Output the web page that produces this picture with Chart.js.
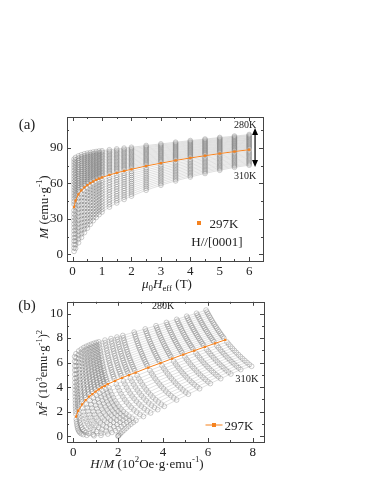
<!DOCTYPE html>
<html><head><meta charset="utf-8">
<script src="https://cdn.jsdelivr.net/npm/chart.js@4"></script>
<style>
body{margin:0;width:374px;height:484px;background:#fff;position:relative;overflow:hidden;font-family:'Liberation Serif','Times New Roman',serif;color:#222}
canvas{position:absolute;left:0}
.t{position:absolute;white-space:nowrap;line-height:1;transform:translate(-50%,-50%)}
.r{transform:translate(-50%,-50%) rotate(-90deg)}
sub,sup{font-size:68%;line-height:0}
</style></head><body>
<canvas id="ca" width="374" height="190" style="top:100px"></canvas>
<canvas id="cb" width="374" height="194" style="top:290px"></canvas>

<div class="t" style="left:27px;top:124px;font-size:15px">(a)</div>
<div class="t r" style="left:43px;top:207px;font-size:13px"><i>M</i> (emu·g<sup>-1</sup>)</div>
<div class="t" style="left:167px;top:283px;font-size:13px"><i>μ</i><sub>0</sub><i>H</i><sub>eff</sub> (T)</div>
<div class="t" style="left:245px;top:125px;font-size:10px">280K</div>
<div class="t" style="left:245px;top:176px;font-size:10px">310K</div>
<div class="t" style="left:199px;top:223px;width:4px;height:4px;background:#f5821f"></div>
<div class="t" style="left:224px;top:223px;font-size:13px">297K</div>
<div class="t" style="left:217px;top:241px;font-size:13px">H//[0001]</div>

<div class="t" style="left:27px;top:305px;font-size:15px">(b)</div>
<div class="t r" style="left:43px;top:373px;font-size:12.5px"><i>M</i><sup>2</sup> (10<sup>3</sup>emu·g<sup>-1</sup>)<sup>2</sup></div>
<div class="t" style="left:147px;top:463px;font-size:13px"><i>H</i>/<i>M</i> (10<sup>2</sup>Oe·g·emu<sup>-1</sup>)</div>
<div class="t" style="left:163px;top:306px;font-size:10px">280K</div>
<div class="t" style="left:247px;top:379px;font-size:10.5px">310K</div>
<div class="t" style="left:214px;top:425px;width:17px;height:1px;background:#f5821f"></div>
<div class="t" style="left:214px;top:425px;width:4px;height:4px;background:#f5821f"></div>
<div class="t" style="left:239px;top:425px;font-size:13px">297K</div>

<script>
// ---- data ----
const fieldsT = [0.05,0.1,0.2,0.3,0.4,0.5,0.6,0.7,0.8,0.9,1.0,1.25,1.5,1.75,2,2.5,3,3.5,4,4.5,5,5.5,6];
const temperaturesK = [280,281,282,283,284,285,286,287,288,289,290,291,292,293,294,295,296,297,298,299,300,301,302,303,304,305,306,307,308,309,310];
const highlightK = 297;
// magnetization (emu/g) per isotherm, one row per temperature, columns follow fieldsT
const magnetization = [
 [80.5,82.0,83.3,84.2,85.0,85.6,86.1,86.6,87.0,87.4,87.7,88.5,89.2,89.9,90.6,92.1,93.5,94.9,96.3,97.6,98.9,100.1,101.4],
 [78.1,79.9,81.4,82.4,83.3,84.0,84.6,85.1,85.6,86.0,86.4,87.2,88.0,88.8,89.5,91.1,92.5,94.0,95.4,96.8,98.1,99.3,100.6],
 [75.7,77.7,79.5,80.7,81.7,82.4,83.1,83.7,84.2,84.7,85.0,86.0,86.8,87.6,88.4,90.1,91.6,93.1,94.6,95.9,97.3,98.6,99.9],
 [73.4,75.6,77.6,78.9,80.0,80.8,81.5,82.2,82.8,83.3,83.7,84.7,85.6,86.5,87.3,89.0,90.6,92.2,93.7,95.1,96.5,97.8,99.1],
 [71.0,73.4,75.7,77.1,78.3,79.2,80.0,80.7,81.4,81.9,82.4,83.5,84.4,85.4,86.2,88.0,89.7,91.3,92.8,94.3,95.7,97.0,98.4],
 [68.6,71.3,73.7,75.4,76.7,77.7,78.5,79.3,79.9,80.5,81.1,82.2,83.3,84.2,85.1,87.0,88.7,90.4,92.0,93.5,94.9,96.2,97.6],
 [66.2,69.1,71.8,73.6,75.0,76.1,77.0,77.8,78.5,79.2,79.7,81.0,82.1,83.1,84.0,86.0,87.7,89.5,91.1,92.6,94.1,95.5,96.9],
 [63.8,67.0,69.9,71.8,73.3,74.5,75.5,76.3,77.1,77.8,78.4,79.7,80.9,82.0,82.9,85.0,86.8,88.6,90.2,91.8,93.3,94.7,96.1],
 [61.4,64.8,68.0,70.1,71.7,72.9,74.0,74.9,75.7,76.4,77.1,78.5,79.7,80.8,81.8,84.0,85.8,87.7,89.4,91.0,92.5,93.9,95.4],
 [59.1,62.7,66.1,68.3,70.0,71.3,72.4,73.4,74.3,75.1,75.7,77.2,78.5,79.7,80.8,82.9,84.9,86.7,88.5,90.1,91.7,93.2,94.6],
 [56.7,60.5,64.2,66.6,68.4,69.7,70.9,72.0,72.9,73.7,74.4,76.0,77.3,78.6,79.7,81.9,83.9,85.8,87.7,89.3,90.9,92.4,93.9],
 [54.3,58.4,62.3,64.8,66.7,68.1,69.4,70.5,71.5,72.3,73.1,74.7,76.1,77.4,78.6,80.9,83.0,84.9,86.8,88.5,90.1,91.6,93.1],
 [51.9,56.2,60.4,63.0,65.0,66.5,67.9,69.0,70.1,70.9,71.8,73.5,74.9,76.3,77.5,79.9,82.0,84.0,85.9,87.7,89.3,90.8,92.4],
 [49.5,54.1,58.4,61.3,63.4,65.0,66.4,67.6,68.6,69.6,70.4,72.2,73.8,75.1,76.4,78.9,81.0,83.1,85.1,86.8,88.5,90.1,91.6],
 [47.2,51.9,56.5,59.5,61.7,63.4,64.8,66.1,67.2,68.2,69.1,71.0,72.6,74.0,75.3,77.8,80.1,82.2,84.2,86.0,87.7,89.3,90.9],
 [44.8,49.8,54.6,57.7,60.0,61.8,63.3,64.6,65.8,66.8,67.8,69.7,71.4,72.9,74.2,76.8,79.1,81.3,83.3,85.2,86.9,88.5,90.1],
 [42.4,47.6,52.7,56.0,58.4,60.2,61.8,63.2,64.4,65.5,66.4,68.5,70.2,71.7,73.1,75.8,78.2,80.4,82.5,84.3,86.1,87.8,89.4],
 [40.0,45.5,50.8,54.2,56.7,58.6,60.3,61.7,63.0,64.1,65.1,67.2,69.0,70.6,72.0,74.8,77.2,79.5,81.6,83.5,85.3,87.0,88.6],
 [37.1,42.4,47.6,51.1,53.8,55.8,57.6,59.1,60.6,61.8,62.8,65.1,67.0,68.7,70.3,73.2,75.8,78.2,80.4,82.3,84.2,86.0,87.6],
 [34.2,39.3,44.5,48.1,50.8,53.0,54.9,56.6,58.1,59.4,60.6,63.0,65.1,66.9,68.5,71.6,74.3,76.8,79.1,81.2,83.1,85.0,86.6],
 [31.3,36.2,41.3,45.0,47.9,50.2,52.2,54.0,55.7,57.1,58.3,60.9,63.1,65.0,66.8,70.1,72.9,75.5,77.9,80.0,82.0,83.9,85.6],
 [28.5,33.0,38.2,41.9,44.9,47.4,49.6,51.5,53.2,54.7,56.1,58.8,61.2,63.2,65.0,68.5,71.4,74.2,76.6,78.9,81.0,82.9,84.6],
 [25.6,29.9,35.0,38.9,42.0,44.6,46.9,48.9,50.8,52.4,53.8,56.7,59.2,61.3,63.3,66.9,70.0,72.8,75.4,77.7,79.9,81.9,83.6],
 [22.7,26.8,31.9,35.8,39.0,41.8,44.2,46.4,48.3,50.0,51.6,54.6,57.2,59.5,61.5,65.3,68.6,71.5,74.2,76.6,78.8,80.9,82.6],
 [19.8,23.7,28.7,32.7,36.1,38.9,41.5,43.8,45.9,47.7,49.3,52.6,55.3,57.6,59.8,63.8,67.1,70.2,72.9,75.4,77.7,79.8,81.5],
 [16.9,20.6,25.6,29.6,33.1,36.1,38.8,41.3,43.4,45.3,47.1,50.5,53.3,55.8,58.0,62.2,65.7,68.9,71.7,74.3,76.6,78.8,80.5],
 [14.0,17.5,22.4,26.6,30.2,33.3,36.1,38.7,41.0,43.0,44.8,48.4,51.3,53.9,56.3,60.6,64.3,67.5,70.5,73.1,75.5,77.8,79.5],
 [11.2,14.4,19.3,23.5,27.2,30.5,33.5,36.2,38.5,40.6,42.6,46.3,49.4,52.1,54.5,59.0,62.8,66.2,69.2,72.0,74.5,76.8,78.5],
 [8.3,11.2,16.1,20.4,24.3,27.7,30.8,33.6,36.1,38.3,40.3,44.2,47.4,50.2,52.8,57.5,61.4,64.9,68.0,70.8,73.4,75.7,77.5],
 [5.4,8.1,13.0,17.4,21.3,24.9,28.1,31.1,33.6,36.0,38.1,42.1,45.5,48.4,51.0,55.9,59.9,63.5,66.7,69.7,72.3,74.7,76.5],
 [2.5,5.0,9.8,14.3,18.4,22.1,25.4,28.5,31.2,33.6,35.8,40.0,43.5,46.5,49.3,54.3,58.5,62.2,65.5,68.5,71.2,73.7,75.5]
];
// tick labels
const ticksAx = [0,1,2,3,4,5,6];
const ticksAy = [0,30,60,90];
const minorAx = [0.5,1.5,2.5,3.5,4.5,5.5];
const minorAy = [15,45,75,105];
const ticksBx = [0,2,4,6,8];
const ticksBy = [0,2,4,6,8,10];
const minorBx = [1,3,5,7];
const minorBy = [1,3,5,7,9];

const FONT = "'Liberation Serif', 'Times New Roman', serif";
const ORANGE = '#f5821f';
const GREY_PT = 'rgba(120,120,120,0.62)';
const GREY_LN = 'rgba(150,150,150,0.6)';

const framePlugin = {
  id: 'frame',
  afterDatasetsDraw(chart, args, o) {
    const {ctx, chartArea: a, scales: {x, y}} = chart;
    ctx.save();
    ctx.strokeStyle = '#444'; ctx.lineWidth = 1;
    ctx.strokeRect(Math.round(a.left) + 0.5, Math.round(a.top) + 0.5, Math.round(a.right - a.left), Math.round(a.bottom - a.top));
    ctx.beginPath();
    const tx = (vals, len) => vals.forEach(v => { const p = Math.round(x.getPixelForValue(v)) + 0.5;
      ctx.moveTo(p, a.bottom); ctx.lineTo(p, a.bottom - len); ctx.moveTo(p, a.top); ctx.lineTo(p, a.top + len); });
    const ty = (vals, len) => vals.forEach(v => { const p = Math.round(y.getPixelForValue(v)) + 0.5;
      ctx.moveTo(a.left, p); ctx.lineTo(a.left + len, p); ctx.moveTo(a.right, p); ctx.lineTo(a.right - len, p); });
    tx(o.xMajor, 4); tx(o.xMinor, 2); ty(o.yMajor, 4); ty(o.yMinor, 2);
    ctx.stroke();
    if (o.arrow) {
      const ax = x.getPixelForValue(o.arrow.x), y1 = y.getPixelForValue(o.arrow.y1), y2 = y.getPixelForValue(o.arrow.y2);
      ctx.strokeStyle = '#000'; ctx.fillStyle = '#000'; ctx.lineWidth = 1.2;
      ctx.beginPath(); ctx.moveTo(ax, y1 + 5); ctx.lineTo(ax, y2 - 5); ctx.stroke();
      ctx.beginPath(); ctx.moveTo(ax, y1); ctx.lineTo(ax - 3, y1 + 7); ctx.lineTo(ax + 3, y1 + 7); ctx.closePath(); ctx.fill();
      ctx.beginPath(); ctx.moveTo(ax, y2); ctx.lineTo(ax - 3, y2 - 7); ctx.lineTo(ax + 3, y2 - 7); ctx.closePath(); ctx.fill();
    }
    ctx.restore();
  }
};

function makeDatasets(mapPoint) {
  return temperaturesK.map((T, i) => {
    const hi = T === highlightK;
    return {
      label: T + 'K',
      data: fieldsT.map((h, j) => mapPoint(h, magnetization[i][j])),
      showLine: true,
      order: hi ? 0 : 1,
      borderColor: hi ? ORANGE : GREY_LN,
      borderWidth: hi ? 1 : 0.5,
      pointRadius: hi ? 1.6 : 2.4,
      pointBorderWidth: hi ? 0 : 0.6,
      pointBorderColor: hi ? ORANGE : GREY_PT,
      pointBackgroundColor: hi ? ORANGE : 'rgba(255,255,255,0)',
      pointStyle: hi ? 'rect' : 'circle'
    };
  });
}

function axis(min, max, ticks, size, isX) {
  return {
    type: 'linear', min, max,
    afterBuildTicks: s => { s.ticks = ticks.map(v => ({value: v})); },
    afterFit: s => { if (isX) s.height = size; else s.width = size; },
    grid: {display: false, drawTicks: false},
    border: {display: false},
    ticks: {font: {family: FONT, size: 13}, color: '#222', padding: isX ? 3 : 4, maxRotation: 0, autoSkip: false}
  };
}

const common = {
  responsive: false, animation: false, devicePixelRatio: 1,
  events: [],
};

new Chart(document.getElementById('ca'), {
  type: 'scatter',
  data: {datasets: makeDatasets((h, m) => ({x: h, y: m}))},
  options: Object.assign({}, common, {
    layout: {padding: {left: 0, right: 111, top: 17, bottom: 9}},
    scales: {x: axis(-0.19, 6.47, ticksAx, 20, true), y: axis(-5.7, 116.3, ticksAy, 67, false)},
    plugins: {legend: {display: false}, tooltip: {enabled: false},
      frame: {xMajor: ticksAx, xMinor: minorAx, yMajor: ticksAy, yMinor: minorAy, arrow: {x: 6.2, y1: 107, y2: 74}}}
  }),
  plugins: [framePlugin]
});

new Chart(document.getElementById('cb'), {
  type: 'scatter',
  data: {datasets: makeDatasets((h, m) => ({x: h * 100 / m, y: m * m / 1000}))},
  options: Object.assign({}, common, {
    layout: {padding: {left: 0, right: 110, top: 9, bottom: 22}},
    scales: {x: axis(-0.28, 8.5, ticksBx, 20, true), y: axis(-0.48, 10.96, ticksBy, 67, false)},
    plugins: {legend: {display: false}, tooltip: {enabled: false},
      frame: {xMajor: ticksBx, xMinor: minorBx, yMajor: ticksBy, yMinor: minorBy}}
  }),
  plugins: [framePlugin]
});
</script>
</body></html>
